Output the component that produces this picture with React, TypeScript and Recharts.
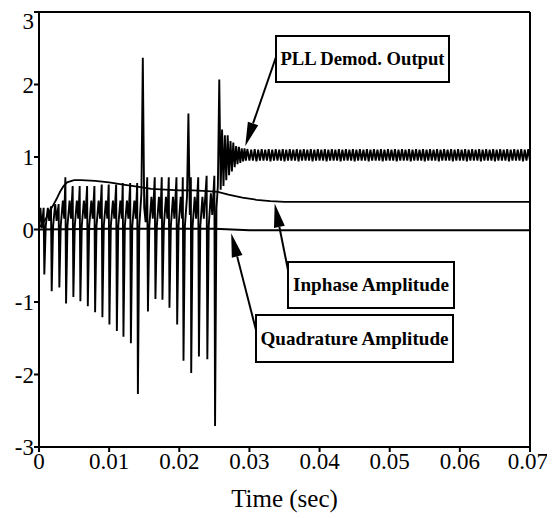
import React from 'react'
import { LineChart, Line, XAxis, YAxis, ReferenceLine } from 'recharts'

const timeTicks = [0, 0.01, 0.02, 0.03, 0.04, 0.05, 0.06, 0.07]
const ampTicks = [-3, -2, -1, 0, 1, 2, 3]

// [time (sec), value]
const pllOutput: [number, number][] = [
  [0, 0.05], [0.0002, 0.3], [0.0004, 0.02], [0.00066, 0.3], [0.00076, -0.62], [0.00096, 0.05], [0.00126, 0.3], [0.00146, 0.12],
  [0.00171, 0.32], [0.00181, -0.85], [0.00201, 0.05], [0.00231, 0.35], [0.00251, 0.12],
  [0.0028, 0.35], [0.0029, -0.8], [0.0031, 0.05], [0.0034, 0.4], [0.0036, 0.15],
  [0.00376, 0.72], [0.00386, -1.02], [0.00406, 0.05], [0.00436, 0.4], [0.00456, 0.15],
  [0.0048, 0.6], [0.0049, -0.93], [0.0051, 0.05], [0.0054, 0.4], [0.0056, 0.15],
  [0.0058, 0.6], [0.0059, -0.99], [0.0061, 0.05], [0.0064, 0.4], [0.0066, 0.15],
  [0.00686, 0.6], [0.00696, -1.06], [0.00716, 0.05], [0.00746, 0.4], [0.00766, 0.15],
  [0.0079, 0.6], [0.008, -1.14], [0.0082, 0.05], [0.0085, 0.4], [0.0087, 0.15],
  [0.00894, 0.62], [0.00904, -1.21], [0.00924, 0.05], [0.00954, 0.4], [0.00974, 0.15],
  [0.00994, 0.62], [0.01004, -1.31], [0.01024, 0.05], [0.01054, 0.4], [0.01074, 0.15],
  [0.011, 0.62], [0.0111, -1.4], [0.0113, 0.05], [0.0116, 0.4], [0.0118, 0.15],
  [0.01194, 0.64], [0.01204, -1.48], [0.01224, 0.05], [0.01254, 0.4], [0.01274, 0.15],
  [0.013, 0.64], [0.0131, -1.57], [0.0133, 0.05], [0.0136, 0.4], [0.0138, 0.15],
  [0.014, 0.64], [0.0141, -2.27], [0.0143, 0.05], [0.0146, 0.5], [0.0148, 2.37], [0.015, 0.3], [0.0152, 0.1],
  [0.01543, 0.72], [0.01553, -1.13], [0.01573, 0.05], [0.01603, 0.45], [0.01623, 0.15],
  [0.0165, 0.72], [0.0166, -0.96], [0.0168, 0.05], [0.0171, 0.45], [0.0173, 0.15],
  [0.0175, 0.72], [0.0176, -0.97], [0.0178, 0.05], [0.0181, 0.45], [0.0183, 0.15],
  [0.0185, 0.72], [0.0186, -1.08], [0.0188, 0.05], [0.0191, 0.45], [0.0193, 0.15],
  [0.0196, 0.72], [0.0197, -1.31], [0.0199, 0.05], [0.0202, 0.45], [0.0204, 0.15],
  [0.0205, 0.72], [0.0206, -1.81], [0.0208, 0.05], [0.0211, 0.45], [0.0213, 1.6], [0.0215, 0.2],
  [0.02165, 0.72], [0.0217, -1.98], [0.0219, 0.05], [0.0222, 0.45], [0.0224, 0.15],
  [0.0227, 0.72], [0.0228, -1.75], [0.023, 0.05], [0.0233, 0.45], [0.0235, 0.15],
  [0.0239, 0.74], [0.024, -1.79], [0.0242, 0.05], [0.0245, 0.5], [0.0247, 0.2],
  [0.025, 0.74], [0.0251, -2.71], [0.0253, 0.3], [0.0255, 0.6], [0.0257, 2.07], [0.0259, 0.55],
  [0.0261, 1.38], [0.0263, 0.6], [0.0265, 1.3], [0.0267, 0.68], [0.0269, 1.3], [0.0271, 0.75],
  [0.0273, 1.22], [0.0275, 0.8], [0.0277, 1.2], [0.0279, 0.86], [0.0281, 1.15], [0.0283, 0.9],
  [0.0285, 1.14], [0.0287, 0.92], [0.0289, 1.12], [0.0291, 0.94], [0.0293, 1.12], [0.0295, 0.95],
  [0.0297, 1.11],
  [0.03, 0.95], [0.03025, 1.1], [0.0305, 0.95], [0.03075, 1.11], [0.031, 0.94], [0.03125, 1.1], [0.0315, 0.95], [0.03175, 1.11],
  [0.032, 0.95], [0.03225, 1.1], [0.0325, 0.95], [0.03275, 1.11], [0.033, 0.94], [0.03325, 1.1], [0.0335, 0.95], [0.03375, 1.11],
  [0.034, 0.95], [0.03425, 1.1], [0.0345, 0.95], [0.03475, 1.11], [0.035, 0.94], [0.03525, 1.1], [0.0355, 0.95], [0.03575, 1.11],
  [0.036, 0.95], [0.03625, 1.1], [0.0365, 0.95], [0.03675, 1.11], [0.037, 0.94], [0.03725, 1.1], [0.0375, 0.95], [0.03775, 1.11],
  [0.038, 0.95], [0.03825, 1.1], [0.0385, 0.95], [0.03875, 1.11], [0.039, 0.94], [0.03925, 1.1], [0.0395, 0.95], [0.03975, 1.11],
  [0.04, 0.95], [0.04025, 1.1], [0.0405, 0.95], [0.04075, 1.11], [0.041, 0.94], [0.04125, 1.1], [0.0415, 0.95], [0.04175, 1.11],
  [0.042, 0.95], [0.04225, 1.1], [0.0425, 0.95], [0.04275, 1.11], [0.043, 0.94], [0.04325, 1.1], [0.0435, 0.95], [0.04375, 1.11],
  [0.044, 0.95], [0.04425, 1.1], [0.0445, 0.95], [0.04475, 1.11], [0.045, 0.94], [0.04525, 1.1], [0.0455, 0.95], [0.04575, 1.11],
  [0.046, 0.95], [0.04625, 1.1], [0.0465, 0.95], [0.04675, 1.11], [0.047, 0.94], [0.04725, 1.1], [0.0475, 0.95], [0.04775, 1.11],
  [0.048, 0.95], [0.04825, 1.1], [0.0485, 0.95], [0.04875, 1.11], [0.049, 0.94], [0.04925, 1.1], [0.0495, 0.95], [0.04975, 1.11],
  [0.05, 0.95], [0.05025, 1.1], [0.0505, 0.95], [0.05075, 1.11], [0.051, 0.94], [0.05125, 1.1], [0.0515, 0.95], [0.05175, 1.11],
  [0.052, 0.95], [0.05225, 1.1], [0.0525, 0.95], [0.05275, 1.11], [0.053, 0.94], [0.05325, 1.1], [0.0535, 0.95], [0.05375, 1.11],
  [0.054, 0.95], [0.05425, 1.1], [0.0545, 0.95], [0.05475, 1.11], [0.055, 0.94], [0.05525, 1.1], [0.0555, 0.95], [0.05575, 1.11],
  [0.056, 0.95], [0.05625, 1.1], [0.0565, 0.95], [0.05675, 1.11], [0.057, 0.94], [0.05725, 1.1], [0.0575, 0.95], [0.05775, 1.11],
  [0.058, 0.95], [0.05825, 1.1], [0.0585, 0.95], [0.05875, 1.11], [0.059, 0.94], [0.05925, 1.1], [0.0595, 0.95], [0.05975, 1.11],
  [0.06, 0.95], [0.06025, 1.1], [0.0605, 0.95], [0.06075, 1.11], [0.061, 0.94], [0.06125, 1.1], [0.0615, 0.95], [0.06175, 1.11],
  [0.062, 0.95], [0.06225, 1.1], [0.0625, 0.95], [0.06275, 1.11], [0.063, 0.94], [0.06325, 1.1], [0.0635, 0.95], [0.06375, 1.11],
  [0.064, 0.95], [0.06425, 1.1], [0.0645, 0.95], [0.06475, 1.11], [0.065, 0.94], [0.06525, 1.1], [0.0655, 0.95], [0.06575, 1.11],
  [0.066, 0.95], [0.06625, 1.1], [0.0665, 0.95], [0.06675, 1.11], [0.067, 0.94], [0.06725, 1.1], [0.0675, 0.95], [0.06775, 1.11],
  [0.068, 0.95], [0.06825, 1.1], [0.0685, 0.95], [0.06875, 1.11], [0.069, 0.94], [0.06925, 1.1], [0.0695, 0.95], [0.06975, 1.11],
  [0.07, 0.95],
]

const inphaseAmp: [number, number][] = [
  [0, 0.02], [0.001, 0.15], [0.0015, 0.25], [0.002, 0.33], [0.0025, 0.42], [0.003, 0.52],
  [0.0035, 0.6], [0.004, 0.65], [0.005, 0.68], [0.006, 0.68], [0.008, 0.67], [0.01, 0.65],
  [0.012, 0.62], [0.014, 0.59], [0.016, 0.56], [0.018, 0.55], [0.02, 0.54], [0.022, 0.54],
  [0.024, 0.53], [0.0255, 0.52], [0.027, 0.48], [0.029, 0.44], [0.031, 0.41], [0.033, 0.39],
  [0.035, 0.38], [0.07, 0.38],
]

const quadratureAmp: [number, number][] = [
  [0, 0], [0.01, 0.01], [0.025, 0.01], [0.03, -0.01], [0.07, -0.01],
]

const toRows = (pts: [number, number][]) => pts.map(([t, v]) => ({ t, v }))

// chart geometry
const W = 540
const H = 505
const MARGIN = { top: 4, right: 18, left: 0, bottom: 0 }
const Y_AXIS_W = 31
const X_AXIS_H = 66
const plotL = MARGIN.left + Y_AXIS_W
const plotR = W - MARGIN.right
const plotT = MARGIN.top
const plotB = H - X_AXIS_H
const px = (t: number) => plotL + (t / 0.07) * (plotR - plotL)
const py = (v: number) => plotT + ((3 - v) / 6) * (plotB - plotT)

const FONT = '"Liberation Serif", "Times New Roman", serif'

function Arrow({ x1, y1, x2, y2 }: { x1: number; y1: number; x2: number; y2: number }) {
  const dx = x2 - x1
  const dy = y2 - y1
  const len = Math.hypot(dx, dy)
  const ux = dx / len
  const uy = dy / len
  const head = 24
  const half = 5.5
  const bx = x2 - ux * head
  const by = y2 - uy * head
  return (
    <g>
      <line x1={x1} y1={y1} x2={bx} y2={by} stroke="#000" strokeWidth={2} />
      <polygon
        points={`${x2},${y2} ${bx - uy * half},${by + ux * half} ${bx + uy * half},${by - ux * half}`}
        fill="#000"
      />
    </g>
  )
}

function Callout({ x, y, w, h, text, textW }: { x: number; y: number; w: number; h: number; text: string; textW: number }) {
  return (
    <g>
      <rect x={x} y={y} width={w} height={h} fill="#fff" stroke="#000" strokeWidth={2} />
      <text
        x={x + w / 2}
        y={y + h / 2 + 6}
        textAnchor="middle"
        fontFamily={FONT}
        fontWeight="bold"
        fontSize={19}
        textLength={textW}
        lengthAdjust="spacingAndGlyphs"
      >
        {text}
      </text>
    </g>
  )
}

export default function App() {
  const tick = { fontSize: 23, fill: '#000', fontFamily: FONT }
  return (
    <div style={{ position: 'relative', width: W, height: H }}>
      <LineChart width={W} height={H} margin={MARGIN}>
        <XAxis
          dataKey="t"
          type="number"
          domain={[0, 0.07]}
          ticks={timeTicks}
          tickFormatter={v => String(v)}
          tick={tick}
          tickSize={5}
          tickMargin={1}
          height={X_AXIS_H}
          axisLine={{ stroke: '#000', strokeWidth: 2 }}
          tickLine={{ stroke: '#000', strokeWidth: 2 }}
          allowDataOverflow
          label={{ value: 'Time (sec)', position: 'insideBottom', offset: 6, fontSize: 25, fill: '#000', fontFamily: FONT }}
        />
        <YAxis
          dataKey="v"
          type="number"
          domain={[-3, 3]}
          ticks={ampTicks}
          tick={tick}
          tickSize={5}
          tickMargin={0}
          width={Y_AXIS_W}
          axisLine={{ stroke: '#000', strokeWidth: 2 }}
          tickLine={{ stroke: '#000', strokeWidth: 2 }}
          allowDataOverflow
        />
        <ReferenceLine y={3} stroke="#000" strokeWidth={2} />
        <ReferenceLine x={0.07} stroke="#000" strokeWidth={2} />
        <Line data={toRows(quadratureAmp)} dataKey="v" type="linear" stroke="#000" strokeWidth={2} dot={false} isAnimationActive={false} />
        <Line data={toRows(inphaseAmp)} dataKey="v" type="linear" stroke="#000" strokeWidth={1.8} dot={false} isAnimationActive={false} />
        <Line data={toRows(pllOutput)} dataKey="v" type="linear" stroke="#000" strokeWidth={1.9} dot={false} isAnimationActive={false} />
      </LineChart>
      <svg width={W} height={H} style={{ position: 'absolute', left: 0, top: 0, pointerEvents: 'none' }}>
        <Callout x={268} y={28} w={173} h={46} text="PLL Demod. Output" textW={164} />
        <Arrow x1={268} y1={49} x2={px(0.0294)} y2={py(1.15)} />
        <Callout x={280} y={254} w={166} h={46} text="Inphase Amplitude" textW={156} />
        <Arrow x1={280} y1={262} x2={px(0.0336)} y2={py(0.36)} />
        <Callout x={248} y={307} w={197} h={47} text="Quadrature Amplitude" textW={188} />
        <Arrow x1={248} y1={322} x2={px(0.0274)} y2={py(-0.05)} />
      </svg>
    </div>
  )
}
